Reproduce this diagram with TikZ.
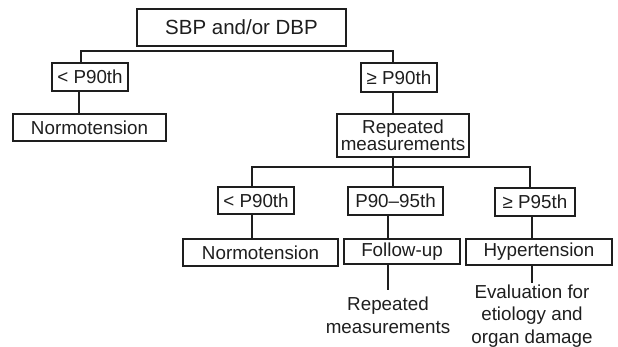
\documentclass[tikz,border=0pt]{standalone}
\usepackage{fontspec}
\setmainfont{Liberation Sans}
\definecolor{ink}{HTML}{1E1E1E}
\begin{document}
\begin{tikzpicture}[x=1pt,y=-1pt,
  every node/.style={text=ink},
  box/.style={draw=ink,line width=1.2pt,inner sep=0pt,align=center,
    font=\fontsize{18.8}{17}\selectfont},
  free/.style={inner sep=0pt,align=center,font=\fontsize{18.8}{22.5}\selectfont},
  wire/.style={draw=ink,line width=2pt}]
\useasboundingbox (0,0) rectangle (618,347);
% nodes
\node[box,minimum width=209pt,minimum height=37pt,font=\fontsize{20.5}{22}\selectfont] (top) at (241.5,27.5) {SBP and/or DBP};
\node[box,minimum width=76pt,minimum height=28pt] (l1) at (90,77) {< P90th};
\node[box,minimum width=153pt,minimum height=27pt] (n1) at (89.5,127.5) {Normotension};
\node[box,minimum width=76pt,minimum height=29pt] (r1) at (399,77.5) {≥ P90th};
\node[box,minimum width=132pt,minimum height=43pt] (rep) at (403,135.5) {Repeated\\measurements};
\node[box,minimum width=76pt,minimum height=27pt] (a) at (256,200.5) {< P90th};
\node[box,minimum width=95pt,minimum height=28pt] (b) at (395.5,201) {P90–95th};
\node[box,minimum width=80pt,minimum height=28pt] (c) at (535,202) {≥ P95th};
\node[box,minimum width=155pt,minimum height=27pt] (na) at (260.5,252.5) {Normotension};
\node[box,minimum width=116pt,minimum height=25pt] (nb) at (402,251.5) {Follow-up};
\node[box,minimum width=146pt,minimum height=26pt] (nc) at (539,252) {Hypertension};
\node[free] (t1) at (388,315.5) {Repeated\\measurements};
\node[free] (t2) at (532,316) {Evaluation for\\etiology and\\organ damage};
% upper tree
\coordinate (hl) at (81,51);
\coordinate (hr) at (393,51);
\draw[wire] (l1.north -| hl) -- (hl) -- (hr) -- (r1.north -| hr);
\draw[wire] ([xshift=-11pt]l1.south) -- ([xshift=-11pt]l1.south |- n1.north);
\draw[wire] (hr |- r1.south) -- (hr |- rep.north);
% lower tree
\coordinate (ll) at (252,167);
\coordinate (lm) at (393,167);
\coordinate (lr) at (530,167);
\draw[wire] (lm |- rep.south) -- (lm);
\draw[wire] (ll |- a.north) -- (ll) -- (lr) -- (lr |- c.north);
\draw[wire] (lm) -- (lm |- b.north);
\draw[wire] (ll |- a.south) -- (ll |- na.north);
\coordinate (bx) at (388,0);
\coordinate (cx) at (532,0);
\draw[wire] (bx |- b.south) -- (bx |- nb.north);
\draw[wire] (cx |- c.south) -- (cx |- nc.north);
\draw[wire,shorten >=7pt] (bx |- nb.south) -- (t1.north -| bx);
\draw[wire,shorten >=2pt] (cx |- nc.south) -- (t2.north -| cx);
\end{tikzpicture}
\end{document}
